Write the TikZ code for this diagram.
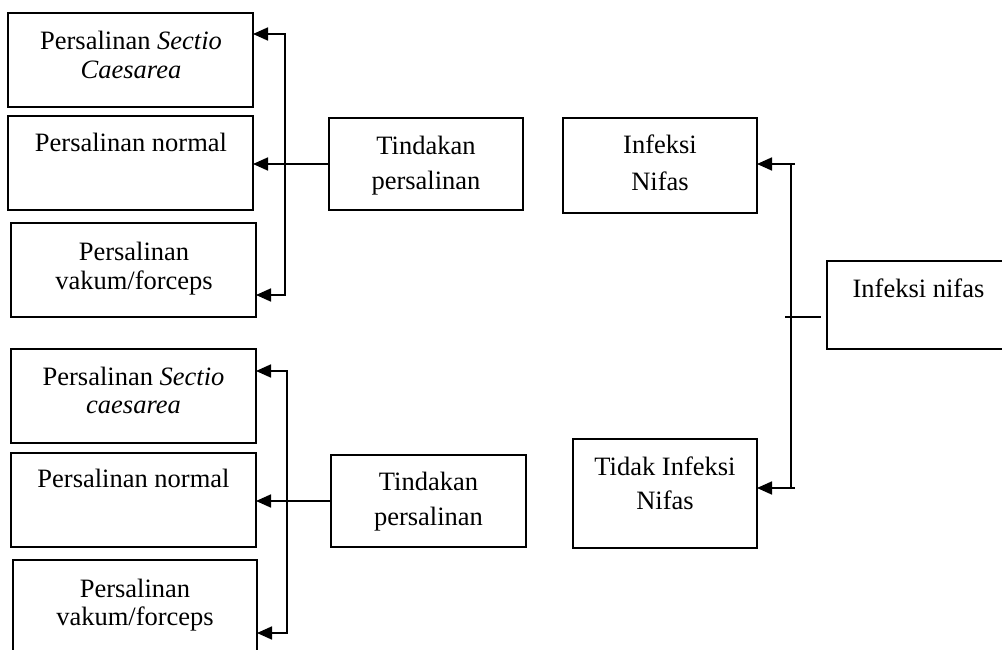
\documentclass[tikz,border=0pt]{standalone}
\usepackage{fontspec}
\setmainfont{Liberation Serif}
\usetikzlibrary{arrows.meta}
\newcommand{\twolines}[2]{\begin{tabular}[t]{@{}c@{}}#1\\#2\end{tabular}}
\begin{document}
\begin{tikzpicture}[x=1pt,y=-1pt,
  box/.style={draw, line width=1.7pt, inner sep=0pt, outer sep=0pt, anchor=north west},
  lbl/.style={anchor=base, inner sep=0pt, font=\fontsize{26.5}{#1}\selectfont},
  lbl/.default=29,
  conn/.style={line width=1.7pt},
  arr/.style={conn, -{Triangle[length=15pt,width=13pt]}},
  arrs/.style={conn, {Triangle[length=15pt,width=13pt]}-{Triangle[length=15pt,width=13pt]}}]
\useasboundingbox (0,0) rectangle (1002,650);
\clip (0,0) rectangle (1002,650);
% top-left group
\node[box, minimum width=245pt, minimum height=94pt] (a1) at (8,13) {};
\node[box, minimum width=245pt, minimum height=94pt] (a2) at (8,116) {};
\node[box, minimum width=245pt, minimum height=94pt] (a3) at (11,223) {};
\node[box, minimum width=194pt, minimum height=92pt] (ta) at (329,118) {};
\node[lbl=29] (la1) at (131,50) {\twolines{Persalinan \textit{Sectio}}{\textit{Caesarea}}};
\node[lbl] (la2) at (131,152) {Persalinan normal};
\node[lbl=29] (la3) at (134,260) {\twolines{Persalinan}{vakum/forceps}};
\node[lbl=35] (lta) at (426,155) {\twolines{Tindakan}{persalinan}};
% bottom-left group
\node[box, minimum width=245pt, minimum height=94pt] (b1) at (11,349) {};
\node[box, minimum width=245pt, minimum height=94pt] (b2) at (11,453) {};
\node[box, minimum width=244pt, minimum height=96pt] (b3) at (13,560) {};
\node[box, minimum width=195pt, minimum height=92pt] (tb) at (331,455) {};
\node[lbl=28] (lb1) at (133.5,385) {\twolines{Persalinan \textit{Sectio}}{\textit{caesarea}}};
\node[lbl] (lb2) at (133.5,487) {Persalinan normal};
\node[lbl=28] (lb3) at (135,597) {\twolines{Persalinan}{vakum/forceps}};
\node[lbl=35] (ltb) at (428.5,490) {\twolines{Tindakan}{persalinan}};
% right group
\node[box, minimum width=194pt, minimum height=95pt] (ifn) at (563,118) {};
\node[box, minimum width=184pt, minimum height=109pt] (tin) at (573,439) {};
\node[box, minimum width=183pt, minimum height=88pt] (inf) at (827,261) {};
\node[lbl=36] (lifn) at (660,154) {\twolines{Infeksi}{Nifas}};
\node[lbl=34] (ltin) at (665,475) {\twolines{Tidak Infeksi}{Nifas}};
\node[lbl] (linf) at (918.5,297) {Infeksi nifas};
% connectors, top-left
\coordinate (bt1) at (285,34);
\coordinate (bb1) at (285,295);
\draw[arrs] (bt1 -| a1.east) -- (bt1) -- (bb1) -- (bb1 -| a3.east);
\draw[arr] (ta.west) -- (ta.west -| a2.east);
% connectors, bottom-left
\coordinate (bt2) at (287,371);
\coordinate (bb2) at (287,633);
\draw[arrs] (bt2 -| b1.east) -- (bt2) -- (bb2) -- (bb2 -| b3.east);
\draw[arr] (tb.west) -- (tb.west -| b2.east);
% connectors, right
\coordinate (rt) at (795,164);
\coordinate (rb) at (795,488);
\draw[conn] (791,164) -- (791,488);
\draw[arr] (rt) -- (rt -| ifn.east);
\draw[arr] (rb) -- (rb -| tin.east);
\coordinate (h1) at (785,317);
\draw[conn] (h1) -- ([xshift=-6pt]inf.west |- h1);
\end{tikzpicture}
\end{document}
